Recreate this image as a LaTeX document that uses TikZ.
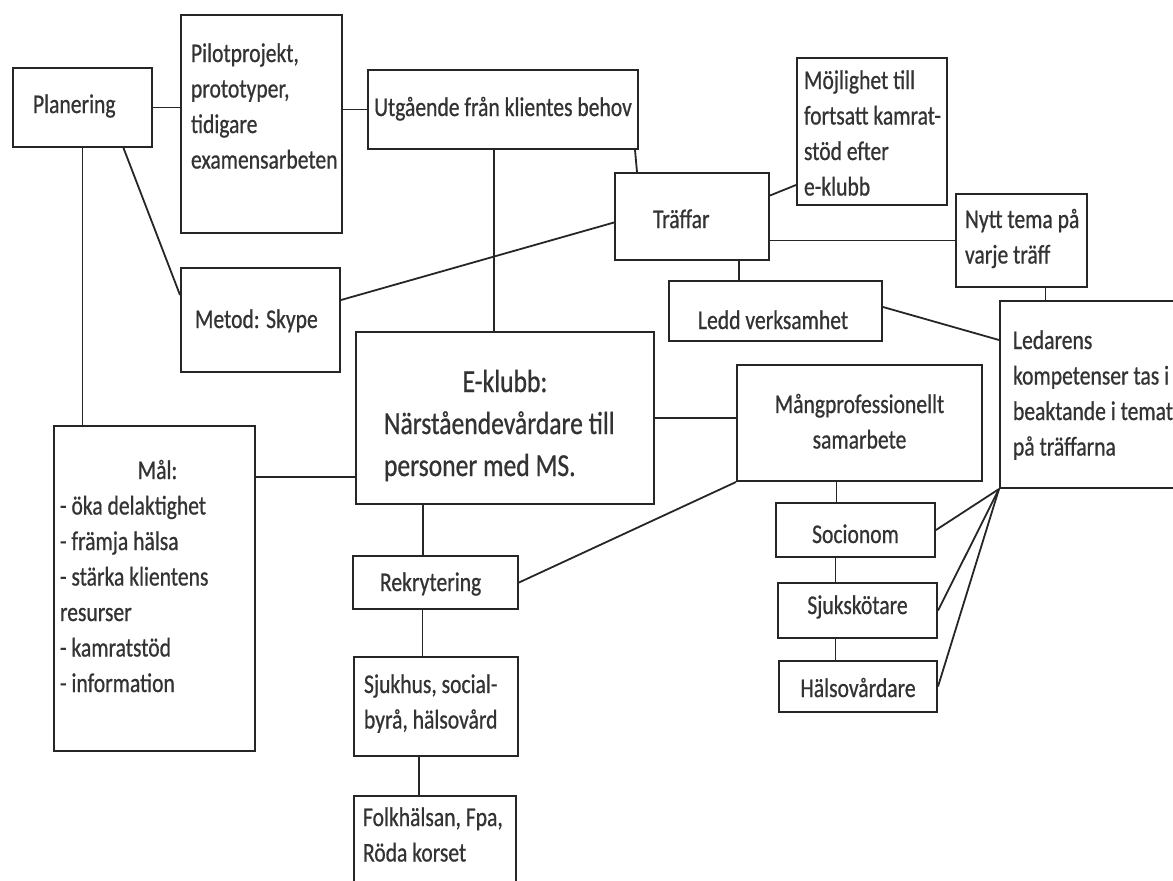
\documentclass[tikz,border=0pt]{standalone}
\usepackage{fontspec}
\setmainfont{Carlito}[FakeStretch=0.8,FakeBold=0.7]
% width, height, left pad, first baseline, text
\newcommand{\boxtxt}[5]{\parbox[c][#2][t]{#1}{\raggedright\leftskip=#3\relax\rule{0pt}{#4}#5}}

\begin{document}
\begin{tikzpicture}[x=1pt,y=-1pt,
    box/.style={draw=black!85,line width=2pt,inner sep=0pt,anchor=north west,text=black!80,font=\fontsize{27}{35.5}\selectfont},
    link/.style={draw=black!85,line width=1.8pt}]
        \clip (0,0) rectangle (1173,881);
        \coordinate (c-plan) at (12,67);
        \coordinate (c-pilot) at (180,14);
        \coordinate (c-utg) at (367,69);
        \coordinate (c-traf) at (614,172);
        \coordinate (c-moj) at (796,57);
        \coordinate (c-nytt) at (955,193);
        \coordinate (c-ledd) at (668,280);
        \coordinate (c-led) at (999,300);
        \coordinate (c-metod) at (180,267);
        \coordinate (c-mal) at (53,425);
        \coordinate (c-ekl) at (355,331);
        \coordinate (c-mang) at (736,364);
        \coordinate (c-soc) at (775,502);
        \coordinate (c-sjk) at (777,582);
        \coordinate (c-hvd) at (778,660);
        \coordinate (c-rek) at (352,555);
        \coordinate (c-sjh) at (353,656);
        \coordinate (c-folk) at (353,795);

        \node[box] (plan) at (c-plan) {\boxtxt{139pt}{79pt}{20pt}{45pt}{Planering}};
        \node[box] (pilot) at (c-pilot) {\boxtxt{161pt}{218pt}{10pt}{47pt}{Pilotprojekt,\\prototyper,\\tidigare\\examensarbeten}};
        \node[box] (utg) at (c-utg) {\boxtxt{270pt}{79pt}{0pt}{46pt}{\centering Utgående från klientes behov}};
        \node[box] (traf) at (c-traf) {\boxtxt{154pt}{87pt}{38pt}{55pt}{Träffar}};
        \node[box] (moj) at (c-moj) {\boxtxt{150pt}{147pt}{7pt}{31pt}{Möjlighet till\\fortsatt kamrat-\\stöd efter\\e-klubb}};
        \node[box] (nytt) at (c-nytt) {\boxtxt{131pt}{93pt}{9pt}{34pt}{Nytt tema på\\varje träff}};
        \node[box] (ledd) at (c-ledd) {\boxtxt{213pt}{60pt}{29pt}{48pt}{Ledd verksamhet}};
        \node[box] (led) at (c-led) {\boxtxt{190pt}{187pt}{13pt}{48pt}{Ledarens\\kompetenser tas i\\beaktande i temat\\på träffarna}};
        \node[box] (metod) at (c-metod) {\boxtxt{159pt}{104pt}{14pt}{60pt}{Metod: Skype}};
        \node[box] (mal) at (c-mal) {\boxtxt{201pt}{325pt}{6pt}{53pt}{\hfill Mål:\hfill\null\\- öka delaktighet\\- främja hälsa\\- stärka klientens\\resurser\\- kamratstöd\\- information}};
        \node[box,font=\fontsize{32}{42}\selectfont] (ekl) at (c-ekl) {\boxtxt{298pt}{172pt}{28pt}{60pt}{\hspace*{-28pt}\hfill E-klubb:\hfill\null\\Närståendevårdare till\\personer med MS.}};
        \node[box] (mang) at (c-mang) {\boxtxt{245pt}{116pt}{0pt}{48pt}{\centering Mångprofessionellt\\samarbete}};
        \node[box] (soc) at (c-soc) {\boxtxt{159pt}{54pt}{0pt}{40pt}{\centering Socionom}};
        \node[box] (sjk) at (c-sjk) {\boxtxt{159pt}{55pt}{0pt}{31pt}{\centering Sjukskötare}};
        \node[box] (hvd) at (c-hvd) {\boxtxt{158pt}{51pt}{0pt}{36pt}{\centering Hälsovårdare}};
        \node[box] (rek) at (c-rek) {\boxtxt{165pt}{53pt}{27pt}{35pt}{Rekrytering}};
        \node[box] (sjh) at (c-sjh) {\boxtxt{164pt}{99pt}{10pt}{36pt}{Sjukhus, social-\\byrå, hälsovård}};
        \node[box] (folk) at (c-folk) {\boxtxt{162pt}{110pt}{9pt}{30pt}{Folkhälsan, Fpa,\\Röda korset}};

        \draw[link] (plan.east) -- (plan.east -| pilot.west);
        \draw[link] (utg.west -| pilot.east) -- (utg.west);
        \draw[link] (plan.south) -- (plan.south |- mal.north);
        \draw[link] ([xshift=41pt]plan.south) -- ([yshift=-28pt]metod.north west);
        \draw[link] ([yshift=-33pt]metod.north east) -- ([yshift=-6pt]traf.west);
        \draw[link] ([xshift=-9pt]utg.south) -- ([xshift=-9pt]utg.south |- ekl.north);
        \draw[link] ([xshift=-4pt]utg.south east) -- ([xshift=23pt]traf.north west);
        \draw[link] ([yshift=21pt]traf.east) -- ([yshift=21pt]moj.south west);
        \draw[link] (nytt.west -| traf.east) -- (nytt.west);
        \draw[link] ([xshift=47pt]traf.south) -- ([xshift=47pt]traf.south |- ledd.north);
        \draw[link] ([xshift=24pt]nytt.south) -- ([xshift=24pt]nytt.south |- led.north);
        \draw[link] ([yshift=-27pt]ledd.north east) -- ([yshift=-40pt]led.north west);
        \draw[link] (ekl.east) -- (ekl.east -| mang.west);
        \draw[link] ([yshift=28pt]ekl.south west -| mal.east) -- ([yshift=28pt]ekl.south west);
        \draw[link] ([xshift=68pt]ekl.south west) -- ([xshift=68pt]ekl.south west |- rek.north);
        \draw[link] (rek.east) -- (mang.south west);
        \draw[link] ([xshift=-13pt]rek.south) -- ([xshift=-13pt]rek.south |- sjh.north);
        \draw[link] ([xshift=-17pt]sjh.south) -- ([xshift=-17pt]sjh.south |- folk.north);
        \draw[link] ([xshift=-23pt]mang.south) -- ([xshift=-23pt]mang.south |- soc.north);
        \draw[link] ([xshift=-20pt]soc.south) -- ([xshift=-20pt]soc.south |- sjk.north);
        \draw[link] ([xshift=-22pt]sjk.south) -- ([xshift=-22pt]sjk.south |- hvd.north);
        \draw[link] (led.south west) -- (soc.east);
        \draw[link] (led.south west) -- (sjk.east);
        \draw[link] (led.south west) -- (hvd.east);
\end{tikzpicture}
\end{document}
